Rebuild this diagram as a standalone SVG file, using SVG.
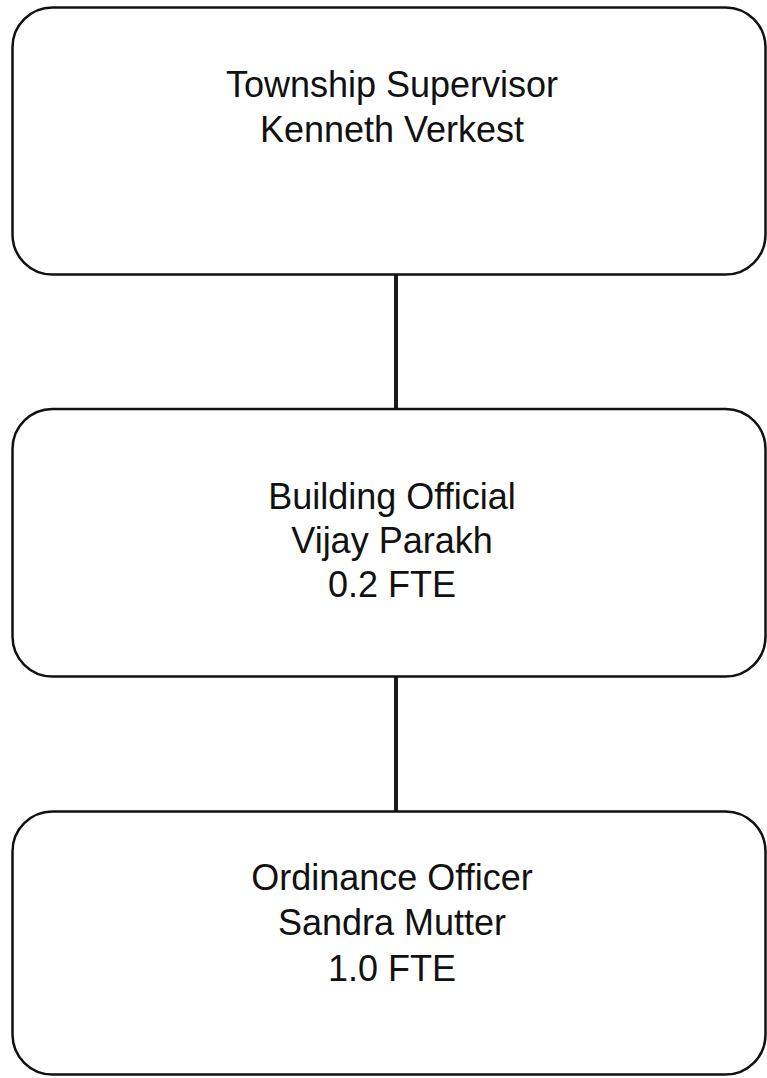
<svg xmlns="http://www.w3.org/2000/svg" width="767" height="1078" viewBox="0 0 767 1078">
  <style>
    .box { fill: #ffffff; stroke: #111111; stroke-width: 2.5; }
    .label { font-family: "Liberation Sans", Arial, sans-serif; font-size: 36px; fill: #111111; text-anchor: middle; }
    .link { stroke: #1a1a1a; stroke-width: 4; fill: none; }
  </style>
  <rect width="767" height="1078" fill="#ffffff"/>

  <!-- reporting lines -->
  <g id="connectors">
    <line class="link" x1="396" y1="275" x2="396" y2="408"/>
    <line class="link" x1="396" y1="677" x2="396" y2="811"/>
  </g>

  <g id="supervisor">
    <rect class="box" x="12.5" y="7.5" width="753" height="267" rx="40" ry="40"/>
    <text class="label" x="392" y="97">Township Supervisor</text>
    <text class="label" x="392" y="142">Kenneth Verkest</text>
  </g>

  <g id="building-official">
    <rect class="box" x="12.5" y="409" width="753" height="267.5" rx="40" ry="40"/>
    <text class="label" x="392" y="509">Building Official</text>
    <text class="label" x="392" y="553">Vijay Parakh</text>
    <text class="label" x="392" y="597">0.2 FTE</text>
  </g>

  <g id="ordinance-officer">
    <rect class="box" x="12.5" y="811.5" width="753" height="263" rx="40" ry="40"/>
    <text class="label" x="392" y="890">Ordinance Officer</text>
    <text class="label" x="392" y="935">Sandra Mutter</text>
    <text class="label" x="392" y="981">1.0 FTE</text>
  </g>
</svg>
